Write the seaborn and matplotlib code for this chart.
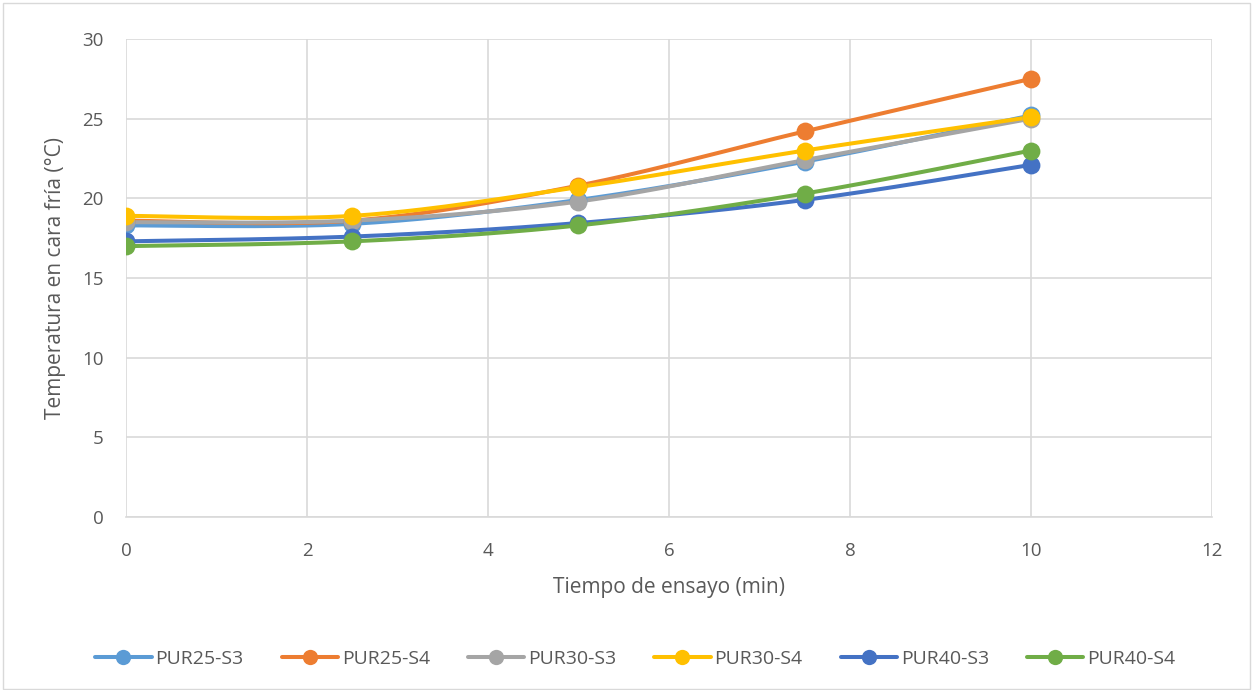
import numpy as np
import pandas as pd
import matplotlib
matplotlib.use("Agg")
import matplotlib.pyplot as plt
import seaborn as sns
from matplotlib.lines import Line2D

tiempo = [0, 2.5, 5, 7.5, 10]
pur25_s3 = [18.3, 18.4, 19.9, 22.3, 25.2]
pur25_s4 = [18.6, 18.6, 20.8, 24.2, 27.5]
pur30_s3 = [18.5, 18.6, 19.8, 22.4, 25.0]
pur30_s4 = [18.9, 18.9, 20.7, 23.0, 25.1]
pur40_s3 = [17.3, 17.6, 18.45, 19.9, 22.1]
pur40_s4 = [17.0, 17.3, 18.3, 20.3, 23.0]
series_names = ["PUR25-S3", "PUR25-S4", "PUR30-S3", "PUR30-S4", "PUR40-S3", "PUR40-S4"]
series_vals = [pur25_s3, pur25_s4, pur30_s3, pur30_s4, pur40_s3, pur40_s4]
colors = ["#5B9BD5", "#ED7D31", "#A5A5A5", "#FFC000", "#4472C4", "#70AD47"]


def smooth(x, y, n=40):
    # Excel-like smoothed line: cubic Bezier with Catmull-Rom control points
    x = np.asarray(x, float); y = np.asarray(y, float)
    px = np.concatenate([[x[0]], x, [x[-1]]])
    py = np.concatenate([[y[0]], y, [y[-1]]])
    xs, ys = [], []
    t = np.linspace(0, 1, n)
    for i in range(1, len(px) - 2):
        p0 = np.array([px[i], py[i]]); p3 = np.array([px[i + 1], py[i + 1]])
        p1 = p0 + (np.array([px[i + 1], py[i + 1]]) - np.array([px[i - 1], py[i - 1]])) / 6
        p2 = p3 - (np.array([px[i + 2], py[i + 2]]) - np.array([px[i], py[i]])) / 6
        b = ((1 - t) ** 3)[:, None] * p0 + (3 * (1 - t) ** 2 * t)[:, None] * p1 \
            + (3 * (1 - t) * t ** 2)[:, None] * p2 + (t ** 3)[:, None] * p3
        xs.extend(b[:, 0]); ys.extend(b[:, 1])
    return np.array(xs), np.array(ys)


sns.set_theme(style="white")
plt.rcParams["font.family"] = ["Open Sans", "DejaVu Sans"]

fig = plt.figure(figsize=(12.53, 6.9), dpi=100)
ax = fig.add_axes([0.1006, 0.2507, 0.8666, 0.6928])

for name, vals, c in zip(series_names, series_vals, colors):
    sx, sy = smooth(tiempo, vals)
    sns.lineplot(x=sx, y=sy, ax=ax, color=c, linewidth=2.9, sort=False,
                 estimator=None, solid_capstyle="round", zorder=3)
    sns.scatterplot(x=tiempo, y=vals, ax=ax, color=c, s=165, edgecolor=c,
                    linewidth=0, zorder=4)

ax.set_xlim(0, 12)
ax.set_ylim(0, 30)
ax.set_xticks(range(0, 13, 2))
ax.set_yticks(range(0, 31, 5))
ax.grid(True, color="#D9D9D9", linewidth=1.2)
ax.set_axisbelow(True)
for s in ["top", "right", "left"]:
    ax.spines[s].set_visible(False)
ax.spines["bottom"].set_color("#D9D9D9")
ax.spines["bottom"].set_linewidth(1.2)
ax.tick_params(axis="both", colors="#595959", labelsize=13.5, length=0)
ax.tick_params(axis="x", pad=18)
ax.tick_params(axis="y", pad=16)
ax.set_xlabel("Tiempo de ensayo (min)", fontsize=15, color="#595959", labelpad=12)
ax.set_ylabel("Temperatura en cara fría (°C)", fontsize=15, color="#595959", labelpad=12)

handles = [Line2D([0], [0], color=c, linewidth=2.9, marker="o", markersize=11,
                  markeredgewidth=0) for c in colors]
leg = fig.legend(handles, series_names, loc="center", bbox_to_anchor=(0.507, 0.045),
                 ncol=6, frameon=False, fontsize=14, handlelength=2.9,
                 columnspacing=1.95, handletextpad=0.2)
for t in leg.get_texts():
    t.set_color("#595959")

fig.patches.append(plt.Rectangle((0.002, 0.002), 0.996, 0.994, transform=fig.transFigure,
                                 fill=False, edgecolor="#D9D9D9", linewidth=1))

fig.savefig("out.png", dpi=100)
